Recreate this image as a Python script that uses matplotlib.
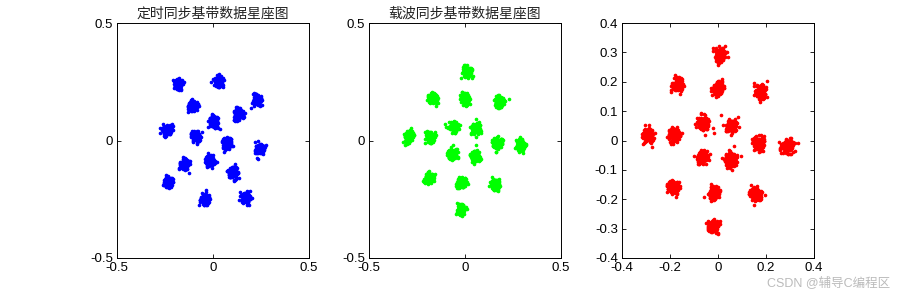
import numpy as np
import matplotlib.pyplot as plt

plt.rcParams['font.family'] = ['Liberation Sans', 'Noto Sans CJK SC', 'DejaVu Sans']

# 定时同步后的星座点中心
timing_x = [-0.179, 0.031, 0.231, -0.104, 0.136, 0.003, -0.243, -0.087,
            0.073, 0.243, -0.148, -0.017, 0.104, -0.238, -0.043, 0.170]
timing_y = [0.241, 0.251, 0.173, 0.145, 0.111, 0.078, 0.043, 0.014,
            -0.014, -0.035, -0.102, -0.085, -0.139, -0.177, -0.248, -0.241]

# 载波同步后的星座点中心
carrier_x = [0.010, -0.170, 0.000, 0.180, -0.060, 0.055, -0.292, -0.182,
             0.167, 0.290, -0.065, 0.052, -0.188, -0.018, 0.160, -0.021]
carrier_y = [0.292, 0.185, 0.178, 0.165, 0.060, 0.052, 0.018, 0.015,
             -0.011, -0.019, -0.056, -0.065, -0.160, -0.178, -0.185, -0.292]

titles = ['定时同步基带数据星座图', '载波同步基带数据星座图', '']
colors = ['#0000ff', '#00ff00', '#ff0000']
lims = [0.5, 0.5, 0.4]
xticks = [[-0.5, 0, 0.5], [-0.5, 0, 0.5], [-0.4, -0.2, 0, 0.2, 0.4]]
yticks = [[-0.5, 0, 0.5], [-0.5, 0, 0.5], [-0.4, -0.3, -0.2, -0.1, 0, 0.1, 0.2, 0.3, 0.4]]

# 每个簇的散布 (模拟噪声，固定种子)
n_per = 120
spread = 0.012
rng = np.random.default_rng(7)


def cloud(cx, cy):
    px, py = [], []
    for x0, y0 in zip(cx, cy):
        px.append(x0 + rng.normal(0, spread, n_per))
        py.append(y0 + rng.normal(0, spread, n_per))
    return np.concatenate(px), np.concatenate(py)


pts = [cloud(timing_x, timing_y), cloud(carrier_x, carrier_y), cloud(carrier_x, carrier_y)]


def fmt(t):
    return '0' if t == 0 else f'{t:g}'


fig = plt.figure(figsize=(8.99, 2.91), dpi=100)
lefts = [117 / 899, 369 / 899, 622 / 899]
for i in range(3):
    ax = fig.add_axes([lefts[i], 33 / 291, 192 / 899, 235 / 291])
    ax.plot(pts[i][0], pts[i][1], '.', color=colors[i], markersize=3.2)
    ax.set_xlim(-lims[i], lims[i])
    ax.set_ylim(-lims[i], lims[i])
    ax.set_xticks(xticks[i])
    ax.set_yticks(yticks[i])
    ax.set_xticklabels([fmt(t) for t in xticks[i]])
    ax.set_yticklabels([fmt(t) for t in yticks[i]])
    ax.tick_params(direction='in', top=True, right=True, labelsize=9.5,
                   length=3, width=0.6, pad=3)
    for s in ax.spines.values():
        s.set_linewidth(0.7)
    if titles[i]:
        ax.set_title(titles[i], fontsize=10, pad=4, color='#222222')

fig.text(0.99, 0.005, 'CSDN @辅导C编程区', ha='right', va='bottom',
         fontsize=9, color='#bbbbbb')

fig.savefig('out.png', dpi=100)
